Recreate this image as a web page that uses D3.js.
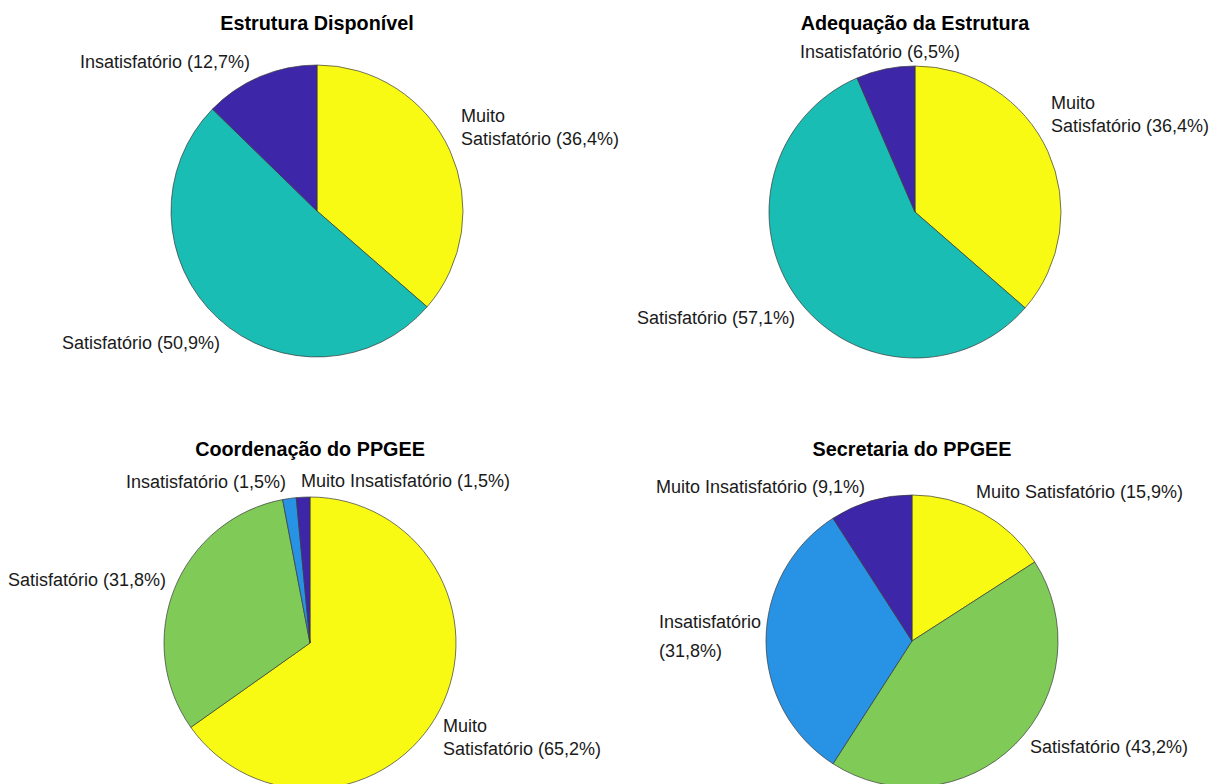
<!DOCTYPE html>
<html>
<head>
<meta charset="utf-8">
<script src="https://cdn.jsdelivr.net/npm/d3@7"></script>
<style>
  body { margin: 0; background: #fff; }
  svg { display: block; font-family: "Liberation Sans", Arial, sans-serif; }
</style>
</head>
<body>
<div id="chart"></div>
<script>
// data (percentages, clockwise from 12 o'clock)
var titles = ['Estrutura Disponível', 'Adequação da Estrutura', 'Coordenação do PPGEE', 'Secretaria do PPGEE']

var cats1 = ['Muito Satisfatório', 'Satisfatório', 'Insatisfatório']
var vals1 = [36.4, 50.9, 12.7]
var cats2 = ['Muito Satisfatório', 'Satisfatório', 'Insatisfatório']
var vals2 = [36.4, 57.1, 6.5]
var cats3 = ['Muito Satisfatório', 'Satisfatório', 'Insatisfatório', 'Muito Insatisfatório']
var vals3 = [65.2, 31.8, 1.5, 1.5]
var cats4 = ['Muito Satisfatório', 'Satisfatório', 'Insatisfatório', 'Muito Insatisfatório']
var vals4 = [15.9, 43.2, 31.8, 9.1]

// label text as written on the figure (line breaks as in the original)
var labels1 = [['Muito', 'Satisfatório (36,4%)'], ['Satisfatório (50,9%)'], ['Insatisfatório (12,7%)']]
var labels2 = [['Muito', 'Satisfatório (36,4%)'], ['Satisfatório (57,1%)'], ['Insatisfatório (6,5%)']]
var labels3 = [['Muito', 'Satisfatório (65,2%)'], ['Satisfatório (31,8%)'], ['Insatisfatório (1,5%)'], ['Muito Insatisfatório (1,5%)']]
var labels4 = [['Muito Satisfatório (15,9%)'], ['Satisfatório (43,2%)'], ['Insatisfatório', '(31,8%)'], ['Muito Insatisfatório (9,1%)']]

// layout
var width = 1209, height = 784
var radius = 146
var centers = [[317, 211], [915, 212], [310, 643], [912, 641]]
var titleY = [30, 30, 456, 456]

// label placement relative to pie centre: [left x, first baseline y, line step]
var labelPos = [
  [[144, -89, 23], [-255, 138, 23], [-237, -143, 23]],
  [[136, -103, 23], [-278, 112, 23], [-115, -154, 23]],
  [[133, 89, 23], [-302, -57, 23], [-184, -155, 23], [-9, -156, 23]],
  [[64, -143, 29], [118, 112, 29], [-253, -13, 29], [-256, -148, 29]]
]

var pies = [
  {cats: cats1, vals: vals1, labels: labels1},
  {cats: cats2, vals: vals2, labels: labels2},
  {cats: cats3, vals: vals3, labels: labels3},
  {cats: cats4, vals: vals4, labels: labels4}
]

var color = d3.scaleOrdinal()
  .domain(['Muito Satisfatório', 'Satisfatório', 'Insatisfatório', 'Muito Insatisfatório'])
  .range(['#F8FA14', '#80CB58', '#2893E5', '#3E26A8'])

// 3-level pies use the teal middle colour
var color3 = d3.scaleOrdinal()
  .domain(['Muito Satisfatório', 'Satisfatório', 'Insatisfatório'])
  .range(['#F8FA14', '#1ABDB4', '#3E26A8'])

var svg = d3.select('#chart')
  .append('svg')
  .attr('width', width)
  .attr('height', height)

var pie = d3.pie()
  .sort(null)
  .value(function(d) { return d.v })

var arc = d3.arc()
  .innerRadius(0)
  .outerRadius(radius)

pies.forEach(function(p, k) {
  var g = svg.append('g')
    .attr('transform', 'translate(' + centers[k][0] + ',' + centers[k][1] + ')')

  var rows = p.cats.map(function(c, i) { return {c: c, v: p.vals[i]} })
  var col = p.cats.length == 3 ? color3 : color

  g.selectAll('path')
    .data(pie(rows))
    .enter()
    .append('path')
    .attr('d', arc)
    .style('fill', function(d) { return col(d.data.c) })
    .style('stroke', '#3a3a3a')
    .style('stroke-width', '0.7')

  svg.append('text')
    .attr('x', centers[k][0])
    .attr('y', titleY[k])
    .attr('text-anchor', 'middle')
    .style('font-size', '19.8px')
    .style('font-weight', 'bold')
    .style('fill', '#000')
    .text(titles[k])

  p.labels.forEach(function(lines, i) {
    var lp = labelPos[k][i]
    var t = g.append('text')
      .attr('x', lp[0])
      .attr('y', lp[1])
      .style('font-size', '18px')
      .style('fill', '#1a1a1a')
    lines.forEach(function(s, j) {
      t.append('tspan')
        .attr('x', lp[0])
        .attr('y', lp[1] + j * lp[2])
        .text(s)
    })
  })
})
</script>
</body>
</html>
